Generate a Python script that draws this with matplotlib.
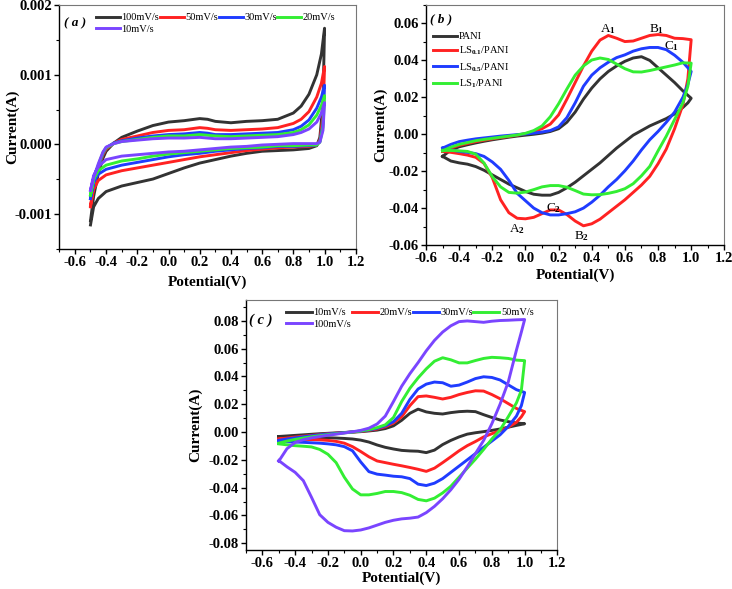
# Cyclic voltammetry curves, three panels (a), (b), (c)
import numpy as np
import matplotlib
matplotlib.use('Agg')
import matplotlib.pyplot as plt
from matplotlib.ticker import MultipleLocator, FormatStrFormatter

plt.rcParams['font.family'] = ['Liberation Serif', 'DejaVu Serif']
plt.rcParams['font.weight'] = 'bold'
plt.rcParams['axes.unicode_minus'] = False
plt.rcParams['mathtext.fontset'] = 'custom'
plt.rcParams['mathtext.rm'] = 'Liberation Serif'
plt.rcParams['mathtext.it'] = 'Liberation Serif:italic'
plt.rcParams['mathtext.bf'] = 'Liberation Serif:bold'

# ---------------- panel (a) data, current in mA ----------------
xa_fwd = [-0.5, -0.48, -0.45, -0.42, -0.4, -0.35, -0.3, -0.2, -0.1, 0.0, 0.1, 0.2,
          0.25, 0.3, 0.4, 0.5, 0.6, 0.7, 0.8, 0.85, 0.9, 0.95, 0.98, 1.0]
xa_rev = [1.0, 0.99, 0.97, 0.95, 0.9, 0.8, 0.7, 0.6, 0.5, 0.4, 0.3, 0.2, 0.1, 0.0,
          -0.1, -0.2, -0.3, -0.4, -0.45, -0.48, -0.5]
labels_a = ['100mV/s', '50mV/s', '30mV/s', '20mV/s', '10mV/s']
ya_fwd = [
    [-1.10, -0.75, -0.42, -0.20, -0.10, 0.02, 0.10, 0.19, 0.27, 0.32, 0.34, 0.37,
     0.36, 0.33, 0.31, 0.33, 0.34, 0.36, 0.45, 0.55, 0.72, 1.00, 1.30, 1.67],
    [-0.88, -0.60, -0.35, -0.15, -0.07, 0.02, 0.07, 0.12, 0.17, 0.20, 0.21, 0.24,
     0.23, 0.21, 0.20, 0.21, 0.22, 0.24, 0.30, 0.36, 0.47, 0.68, 0.88, 1.12],
    [-0.78, -0.55, -0.32, -0.13, -0.05, 0.02, 0.05, 0.09, 0.12, 0.14, 0.15, 0.17,
     0.16, 0.14, 0.14, 0.15, 0.16, 0.17, 0.21, 0.26, 0.35, 0.52, 0.68, 0.85],
    [-0.73, -0.52, -0.30, -0.12, -0.05, 0.01, 0.04, 0.07, 0.10, 0.12, 0.12, 0.14,
     0.13, 0.12, 0.11, 0.12, 0.13, 0.14, 0.17, 0.21, 0.28, 0.42, 0.56, 0.70],
    [-0.66, -0.48, -0.28, -0.11, -0.04, 0.01, 0.04, 0.06, 0.08, 0.09, 0.09, 0.10,
     0.09, 0.08, 0.08, 0.09, 0.10, 0.11, 0.14, 0.17, 0.22, 0.32, 0.45, 0.60],
]
ya_rev = [
    [1.67, 0.60, 0.10, -0.02, -0.06, -0.08, -0.09, -0.10, -0.13, -0.17, -0.22, -0.27,
     -0.34, -0.42, -0.50, -0.55, -0.60, -0.68, -0.78, -0.90, -1.16],
    [1.12, 0.40, 0.06, -0.01, -0.03, -0.04, -0.05, -0.07, -0.09, -0.12, -0.15, -0.18,
     -0.22, -0.26, -0.30, -0.34, -0.38, -0.44, -0.52, -0.65, -0.90],
    [0.85, 0.30, 0.04, -0.01, -0.02, -0.03, -0.03, -0.05, -0.06, -0.08, -0.10, -0.13,
     -0.15, -0.18, -0.22, -0.26, -0.30, -0.36, -0.43, -0.55, -0.78],
    [0.70, 0.25, 0.03, -0.01, -0.01, -0.02, -0.02, -0.04, -0.05, -0.06, -0.08, -0.10,
     -0.12, -0.14, -0.17, -0.21, -0.24, -0.30, -0.38, -0.50, -0.73],
    [0.60, 0.20, 0.03, 0.01, 0.01, 0.01, 0.00, -0.01, -0.03, -0.04, -0.06, -0.08,
     -0.10, -0.11, -0.13, -0.15, -0.17, -0.22, -0.32, -0.45, -0.66],
]
colors_a = ['#333333', '#ff2222', '#1f3cff', '#33ee33', '#7a45ff']

# ---------------- shared potential grid for (b) and (c) ----------------
x_fwd = [-0.5, -0.45, -0.4, -0.35, -0.3, -0.25, -0.2, -0.15, -0.1, -0.05, 0.0,
         0.05, 0.1, 0.15, 0.2, 0.25, 0.3, 0.35, 0.4, 0.45, 0.5, 0.55, 0.6, 0.65,
         0.7, 0.75, 0.8, 0.85, 0.9, 0.95, 1.0]
x_rev = [1.0, 0.98, 0.95, 0.9, 0.85, 0.8, 0.75, 0.7, 0.65, 0.6, 0.55, 0.5, 0.45,
         0.4, 0.35, 0.3, 0.25, 0.2, 0.15, 0.1, 0.05, 0.0, -0.05, -0.1, -0.15, -0.2,
         -0.25, -0.3, -0.35, -0.4, -0.45, -0.5]

# ---------------- panel (b) data, current in A ----------------
labels_b = ['PANI', 'LS$_{0.1}$/PANI', 'LS$_{0.5}$/PANI', 'LS$_{1}$/PANI']
colors_b = ['#333333', '#ff2222', '#1f3cff', '#33ee33']
yb_fwd = [
    [-0.012, -0.0085, -0.0068, -0.0057, -0.0047, -0.0038, -0.003, -0.0023, -0.0016,
     -0.001, -0.0005, 0.0, 0.0006, 0.0015, 0.003, 0.0065, 0.012, 0.019, 0.025, 0.030,
     0.034, 0.037, 0.0395, 0.0413, 0.042, 0.040, 0.036, 0.032, 0.028, 0.0235, 0.0195],
    [-0.009, -0.0075, -0.006, -0.005, -0.004, -0.0032, -0.0025, -0.0018, -0.0012,
     -0.0005, 0.0003, 0.0015, 0.003, 0.0055, 0.0105, 0.019, 0.028, 0.037, 0.045, 0.051,
     0.0535, 0.052, 0.0502, 0.0505, 0.052, 0.0535, 0.054, 0.0535, 0.052, 0.0518, 0.0512],
    [-0.0075, -0.0055, -0.004, -0.0032, -0.0025, -0.002, -0.0015, -0.001, -0.0006,
     -0.0002, 0.0002, 0.0006, 0.0012, 0.002, 0.004, 0.009, 0.017, 0.026, 0.032, 0.036,
     0.039, 0.0415, 0.043, 0.045, 0.0463, 0.047, 0.047, 0.0458, 0.0428, 0.039, 0.034],
    [-0.009, -0.007, -0.0055, -0.0045, -0.0035, -0.0028, -0.0022, -0.0016, -0.001,
     -0.0004, 0.0005, 0.002, 0.0045, 0.0095, 0.0165, 0.0245, 0.032, 0.037, 0.0402, 0.0413,
     0.0405, 0.038, 0.0355, 0.0338, 0.0337, 0.0345, 0.0355, 0.0365, 0.0375, 0.0387, 0.0385],
]
yb_rev = [
    [0.0195, 0.017, 0.0145, 0.011, 0.0085, 0.0065, 0.0045, 0.002, -0.0005, -0.004,
     -0.0075, -0.0115, -0.0155, -0.019, -0.0225, -0.026, -0.029, -0.0315, -0.033, -0.033,
     -0.0325, -0.031, -0.029, -0.027, -0.0245, -0.022, -0.0195, -0.0175, -0.0162, -0.0155,
     -0.0145, -0.012],
    [0.0512, 0.030, 0.016, 0.003, -0.008, -0.016, -0.0228, -0.0275, -0.0315, -0.0355,
     -0.039, -0.0425, -0.046, -0.0485, -0.0496, -0.047, -0.0435, -0.041, -0.041, -0.043,
     -0.045, -0.0458, -0.0455, -0.0425, -0.0355, -0.0235, -0.0158, -0.0125, -0.0113,
     -0.0105, -0.0098, -0.0093],
    [0.034, 0.027, 0.020, 0.012, 0.0065, 0.0015, -0.003, -0.0085, -0.0145, -0.0198,
     -0.0245, -0.0285, -0.033, -0.0368, -0.040, -0.042, -0.043, -0.0437, -0.0437, -0.0425,
     -0.040, -0.036, -0.032, -0.025, -0.019, -0.015, -0.012, -0.0105, -0.0098, -0.0093,
     -0.0085, -0.0075],
    [0.0385, 0.026, 0.017, 0.008, -0.001, -0.009, -0.0174, -0.0225, -0.0268, -0.0295,
     -0.031, -0.032, -0.0327, -0.0328, -0.0324, -0.0305, -0.0287, -0.0278, -0.0278, -0.0285,
     -0.030, -0.0313, -0.0319, -0.0315, -0.0285, -0.023, -0.0156, -0.0108, -0.0093, -0.009,
     -0.0088, -0.0087],
]
peak_names = ['A$_1$', 'B$_1$', 'C$_1$', 'A$_2$', 'B$_2$', 'C$_2$']
peak_x = [0.50, 0.79, 0.88, -0.05, 0.34, 0.17]
peak_y = [0.0572, 0.0572, 0.0478, -0.0515, -0.0550, -0.0400]

# ---------------- panel (c) data, current in A ----------------
labels_c = ['10mV/s', '20mV/s', '30mV/s', '50mV/s', '100mV/s']
colors_c = ['#333333', '#ff2222', '#1f3cff', '#33ee33', '#7a45ff']
yc_fwd = [
    [-0.0032, -0.0028, -0.0024, -0.002, -0.0016, -0.0012, -0.0009, -0.0006, -0.0003,
     0.0, 0.0003, 0.0008, 0.0014, 0.0025, 0.0045, 0.0085, 0.0135, 0.0165, 0.0145, 0.0135,
     0.013, 0.014, 0.0147, 0.015, 0.0147, 0.0125, 0.0105, 0.0087, 0.0075, 0.0065, 0.006],
    [-0.005, -0.0043, -0.0036, -0.003, -0.0024, -0.0018, -0.0013, -0.0008, -0.0004,
     0.0, 0.0005, 0.0012, 0.0022, 0.0038, 0.0065, 0.011, 0.019, 0.0255, 0.026, 0.025,
     0.0238, 0.025, 0.027, 0.0285, 0.0297, 0.0295, 0.027, 0.024, 0.0205, 0.017, 0.0147],
    [-0.006, -0.005, -0.0042, -0.0034, -0.0027, -0.002, -0.0014, -0.0009, -0.0004,
     0.0001, 0.0007, 0.0015, 0.0027, 0.0045, 0.0075, 0.0135, 0.0235, 0.031, 0.0345, 0.036,
     0.0355, 0.033, 0.0338, 0.036, 0.0385, 0.0398, 0.0393, 0.0375, 0.034, 0.0305, 0.0285],
    [-0.008, -0.0065, -0.0053, -0.0043, -0.0034, -0.0026, -0.0019, -0.0012, -0.0006,
     0.0, 0.0008, 0.0018, 0.0032, 0.0052, 0.0105, 0.022, 0.0315, 0.039, 0.0455, 0.051,
     0.0535, 0.052, 0.0498, 0.0498, 0.0515, 0.053, 0.0538, 0.0535, 0.053, 0.0518, 0.0514],
    [-0.021, -0.012, -0.0075, -0.0055, -0.0042, -0.0032, -0.0023, -0.0015, -0.0007,
     0.0002, 0.0012, 0.0028, 0.0058, 0.0115, 0.022, 0.033, 0.042, 0.050, 0.0585, 0.066,
     0.072, 0.0765, 0.0795, 0.080, 0.0795, 0.079, 0.0798, 0.0803, 0.0805, 0.0808, 0.081],
]
yc_rev = [
    [0.006, 0.0055, 0.0048, 0.0035, 0.0022, 0.0012, 0.0003, -0.0005, -0.0015, -0.0035,
     -0.006, -0.009, -0.013, -0.0148, -0.0138, -0.0136, -0.0132, -0.0122, -0.011, -0.0093,
     -0.0072, -0.0058, -0.005, -0.0046, -0.0043, -0.0041, -0.0039, -0.0037, -0.0035,
     -0.0034, -0.0033, -0.0032],
    [0.0147, 0.011, 0.007, 0.0035, 0.001, -0.0012, -0.0035, -0.0068, -0.0098, -0.0135,
     -0.0178, -0.022, -0.026, -0.0283, -0.0268, -0.0255, -0.0243, -0.0232, -0.022, -0.0208,
     -0.0178, -0.014, -0.0105, -0.008, -0.0067, -0.006, -0.0056, -0.0054, -0.0053,
     -0.0052, -0.0051, -0.0051],
    [0.0285, 0.019, 0.0115, 0.004, -0.002, -0.0065, -0.011, -0.0155, -0.020, -0.0245,
     -0.029, -0.0335, -0.0368, -0.0385, -0.0375, -0.0335, -0.0322, -0.0318, -0.031, -0.0303,
     -0.0285, -0.0215, -0.0135, -0.0105, -0.0092, -0.0085, -0.008, -0.0077, -0.0074,
     -0.0072, -0.007, -0.0068],
    [0.0514, 0.030, 0.021, 0.011, 0.0015, -0.005, -0.0125, -0.0195, -0.026, -0.0325,
     -0.039, -0.0438, -0.0476, -0.0495, -0.0485, -0.0455, -0.0436, -0.0428, -0.0428, -0.0442,
     -0.0452, -0.0452, -0.041, -0.0325, -0.022, -0.016, -0.0125, -0.0107, -0.0102,
     -0.0098, -0.0092, -0.0085],
    [0.081, 0.072, 0.059, 0.036, 0.020, 0.006, -0.006, -0.0155, -0.025, -0.034,
     -0.0415, -0.048, -0.0535, -0.058, -0.0612, -0.062, -0.0625, -0.0635, -0.065, -0.067,
     -0.069, -0.0705, -0.0712, -0.071, -0.0685, -0.065, -0.0595, -0.047, -0.035,
     -0.029, -0.025, -0.0205],
]

for f, r in zip(ya_fwd, ya_rev):
    assert len(f) == len(xa_fwd) and len(r) == len(xa_rev)
for f, r in zip(yb_fwd + yc_fwd, yb_rev + yc_rev):
    assert len(f) == len(x_fwd) and len(r) == len(x_rev)

LW = 2.1
TICK_FS = 10.5
LABEL_FS = 11
LEG_FS = 7.5


def style_axes(ax, xlim, ylim, ymaj, ymin, yfmt, ylab_x, xlab_y):
    ax.set_xlim(*xlim)
    ax.set_ylim(*ylim)
    ax.xaxis.set_major_locator(MultipleLocator(0.2))
    ax.xaxis.set_minor_locator(MultipleLocator(0.1))
    ax.yaxis.set_major_locator(MultipleLocator(ymaj))
    ax.yaxis.set_minor_locator(MultipleLocator(ymin))
    ax.xaxis.set_major_formatter(FormatStrFormatter('%.1f'))
    ax.yaxis.set_major_formatter(FormatStrFormatter(yfmt))
    ax.tick_params(which='major', direction='out', length=3.5, width=1,
                   labelsize=TICK_FS, top=False, right=False, pad=1.5)
    ax.tick_params(which='minor', direction='out', length=2.5, width=0.8,
                   top=False, right=False)
    for s in ['top', 'right']:
        ax.spines[s].set_color('#777777')
    for s in ['left', 'bottom']:
        ax.spines[s].set_color('black')
        ax.spines[s].set_linewidth(1.0)
    ax.set_xlabel('Potential(V)', fontsize=LABEL_FS, fontweight='bold')
    ax.set_ylabel('Current(A)', fontsize=LABEL_FS, fontweight='bold')
    ax.yaxis.set_label_coords(ylab_x, 0.5)
    ax.xaxis.set_label_coords(0.5, xlab_y)


def loop(xf, xr, yf, yr, scale=1.0):
    x = list(xf) + list(xr)
    y = np.array(list(yf) + list(yr)) * scale
    return x, y


fig = plt.figure(figsize=(7.32, 5.89), dpi=100)

# ---- (a)
ax_a = fig.add_axes([0.081, 0.578, 0.405, 0.413])
lines_a = []
for f, r, c, lab in zip(ya_fwd, ya_rev, colors_a, labels_a):
    x, y = loop(xa_fwd, xa_rev, f, r, 1e-3)
    ln, = ax_a.plot(x, y, color=c, lw=LW, label=lab, solid_joinstyle='round')
    lines_a.append(ln)
style_axes(ax_a, (-0.7, 1.2), (-0.0015, 0.002), 0.001, 0.0005, '%.3f', -0.136, -0.11)
order = [0, 4, 1, 2, 3]
ax_a.legend([lines_a[i] for i in order], [labels_a[i] for i in order], ncol=4,
            loc='upper left', bbox_to_anchor=(0.11, 0.985), frameon=False,
            prop={'size': LEG_FS, 'weight': 'normal'}, handlelength=2.3,
            handletextpad=0.15, columnspacing=0.05, labelspacing=0.2, borderaxespad=0)
ax_a.text(0.015, 0.925, '( a )', transform=ax_a.transAxes, fontsize=9.5,
          fontstyle='italic', fontweight='bold', va='center')

# ---- (b)
ax_b = fig.add_axes([0.582, 0.584, 0.4075, 0.4075])
for f, r, c, lab in zip(yb_fwd, yb_rev, colors_b, labels_b):
    x, y = loop(x_fwd, x_rev, f, r)
    ax_b.plot(x, y, color=c, lw=LW, label=lab, solid_joinstyle='round')
style_axes(ax_b, (-0.6, 1.2), (-0.06, 0.07), 0.02, 0.01, '%.2f', -0.131, -0.096)
ax_b.legend(loc='upper left', bbox_to_anchor=(0.01, 0.905), frameon=False,
            prop={'size': LEG_FS, 'weight': 'normal'}, handlelength=2.3,
            handletextpad=0.15, labelspacing=0.35, borderaxespad=0)
ax_b.text(0.015, 0.94, '( b )', transform=ax_b.transAxes, fontsize=9.5,
          fontstyle='italic', fontweight='bold', va='center')
for name, px, py in zip(peak_names, peak_x, peak_y):
    ax_b.text(px, py, name, fontsize=9.5, fontweight='normal', ha='center', va='center')

# ---- (c)
ax_c = fig.add_axes([0.336, 0.066, 0.4255, 0.4245])
lines_c = []
for f, r, c, lab in zip(yc_fwd, yc_rev, colors_c, labels_c):
    x, y = loop(x_fwd, x_rev, f, r)
    ln, = ax_c.plot(x, y, color=c, lw=LW, label=lab, solid_joinstyle='round')
    lines_c.append(ln)
style_axes(ax_c, (-0.7, 1.2), (-0.085, 0.095), 0.02, 0.01, '%.2f', -0.141, -0.084)
ax_c.legend([lines_c[i] for i in order], [labels_c[i] for i in order], ncol=4,
            loc='upper left', bbox_to_anchor=(0.115, 0.985), frameon=False,
            prop={'size': LEG_FS, 'weight': 'normal'}, handlelength=2.5,
            handletextpad=0.15, columnspacing=0.05, labelspacing=0.2, borderaxespad=0)
ax_c.text(0.01, 0.92, '( c )', transform=ax_c.transAxes, fontsize=10.5,
          fontstyle='italic', fontweight='bold', va='center')

fig.savefig('out.png', dpi=100)
